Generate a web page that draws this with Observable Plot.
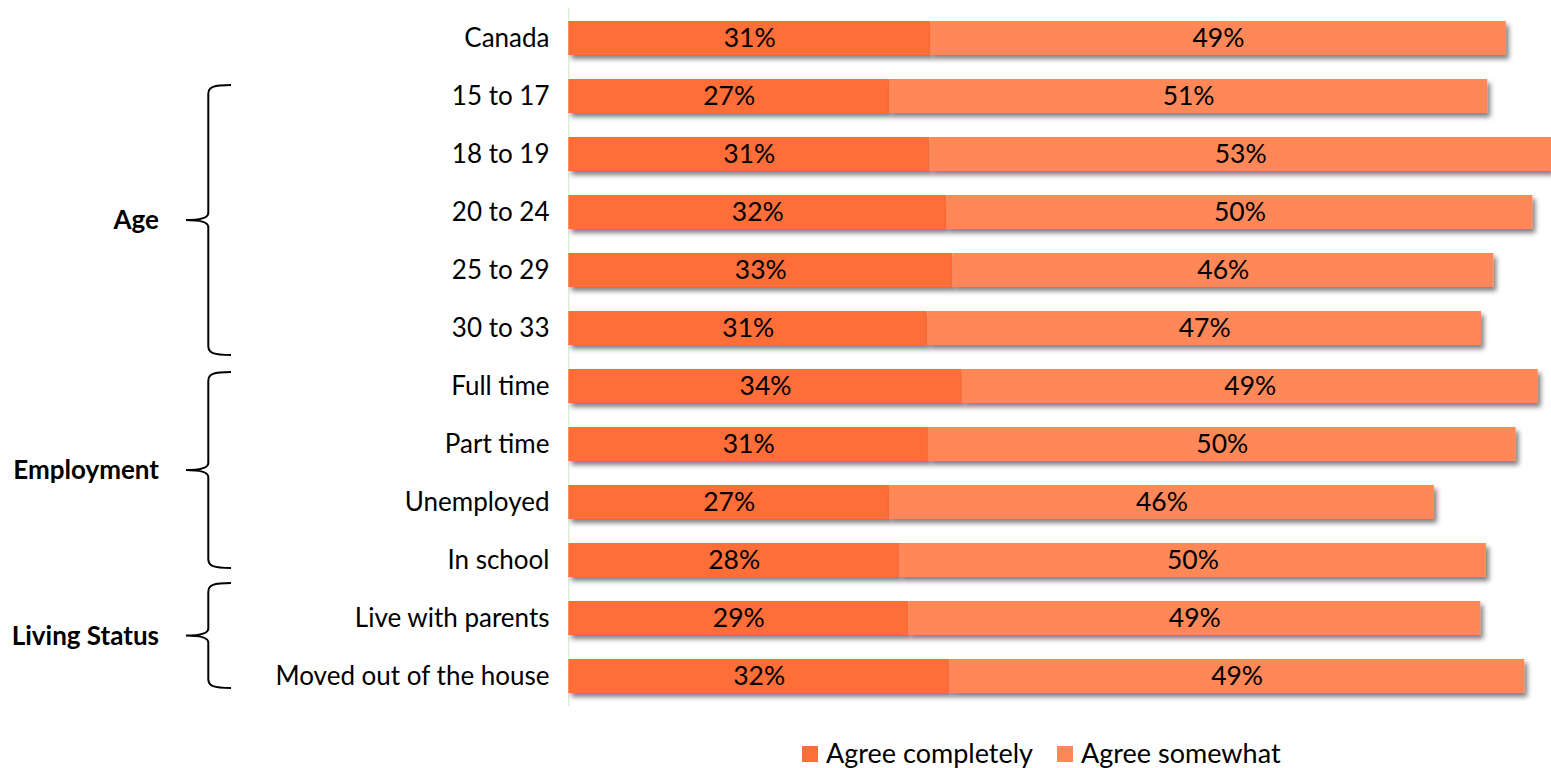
<!DOCTYPE html>
<html>
<head>
<meta charset="utf-8">
<script src="https://cdn.jsdelivr.net/npm/d3@7"></script>
<script src="https://cdn.jsdelivr.net/npm/@observablehq/plot@0.6"></script>
<style>
  html, body { margin: 0; padding: 0; background: #fff; }
  body { width: 1551px; height: 768px; overflow: hidden; position: relative; font-family: Lato, "Open Sans", sans-serif; }
  #legend { position: absolute; left: 802px; top: 739px; display: flex; align-items: center; font-size: 27px; line-height: 27px; color: #000; }
  #legend .item { display: flex; align-items: center; margin-right: 24px; }
  #legend .sw { width: 16px; height: 16px; margin-right: 8px; position: relative; top: 1.5px; }
</style>
</head>
<body>
<div id="chart"></div>
<div id="legend"></div>
<script>
// ---- data ----
const categories = ["Canada", "15 to 17", "18 to 19", "20 to 24", "25 to 29", "30 to 33",
  "Full time", "Part time", "Unemployed", "In school", "Live with parents", "Moved out of the house"];
const agreeCompletely = [30.84, 27.34, 30.78, 32.23, 32.74, 30.61, 33.55, 30.66, 27.34, 28.19, 28.99, 32.45];
const agreeSomewhat   = [49.08, 51.0, 53.0, 49.96, 46.12, 47.2, 49.1, 50.1, 46.45, 50.04, 48.76, 49.05];
const seriesNames = ["Agree completely", "Agree somewhat"];
const groupLabels = ["Age", "Employment", "Living Status"];
const groupFrom = ["15 to 17", "Full time", "Live with parents"];
const groupTo = ["30 to 33", "In school", "Moved out of the house"];

// ---- style / layout ----
const colors = ["#FF6D38", "#FF8759"];
const braceNudge = [[6, 10], [3, -9], [-18, -5]]; // annotation fine-tuning (px)

const rows = categories.map((c, i) => ({cat: c, a: agreeCompletely[i], b: agreeSomewhat[i]}));

const chart = Plot.plot({
  width: 1551,
  height: 720,
  marginLeft: 568,
  marginRight: 0,
  marginTop: 8,
  marginBottom: 14,
  style: {fontFamily: "Lato, 'Open Sans', sans-serif", fontSize: "26px", color: "#000", background: "#fff", overflow: "hidden"},
  x: {domain: [0, 100], range: [568.3, 568.3 + 1173], axis: null},
  y: {domain: categories, range: [20.4, 693.2], paddingInner: 0.41, paddingOuter: 0,
      tickSize: 0, tickPadding: 19, label: null},
  marks: [
    Plot.ruleX([0], {stroke: "#dcf0dc", strokeWidth: 1.5}),
    Plot.barX(rows, {y: "cat", x1: 0, x2: "a", fill: colors[0], clip: true}),
    Plot.barX(rows, {y: "cat", x1: "a", x2: d => d.a + d.b, fill: colors[1], clip: true}),
    Plot.text(rows, {y: "cat", x: d => d.a / 2, text: d => Math.round(d.a) + "%", fontSize: 26.5, fill: "#000"}),
    Plot.text(rows, {y: "cat", x: d => d.a + d.b / 2, text: d => Math.round(d.b) + "%", fontSize: 26.5, fill: "#000"})
  ]
});
document.getElementById("chart").appendChild(chart);

// drop shadow on bars
const svg = d3.select(chart);
const defs = svg.insert("defs", ":first-child");
const f = defs.append("filter").attr("id", "barshadow")
  .attr("filterUnits", "userSpaceOnUse").attr("x", 0).attr("y", 0).attr("width", 1700).attr("height", 800);
f.append("feGaussianBlur").attr("in", "SourceAlpha").attr("stdDeviation", 2.5).attr("result", "blur");
f.append("feOffset").attr("in", "blur").attr("dx", 3).attr("dy", 4).attr("result", "off");
f.append("feComponentTransfer").attr("in", "off").attr("result", "sh")
  .append("feFuncA").attr("type", "linear").attr("slope", 0.5);
const fm = f.append("feMerge");
fm.append("feMergeNode").attr("in", "sh");
fm.append("feMergeNode").attr("in", "SourceGraphic");
svg.selectAll("rect").each(function() {
  const g = this.parentNode;
  if (g && g.tagName.toLowerCase() === "g") g.setAttribute("filter", "url(#barshadow)");
});

// group braces and labels, positioned from the y scale
const y = chart.scale("y");
const bw = y.bandwidth;
const xv = 208.3, xe = 231, xt = 186;
groupLabels.forEach((lab, i) => {
  const top = y.apply(groupFrom[i]) + braceNudge[i][0];
  const bot = y.apply(groupTo[i]) + bw + braceNudge[i][1];
  const mid = (top + bot) / 2;
  const d = `M${xe},${top} C${xv + 5},${top} ${xv},${top + 2} ${xv},${top + 9}
    L${xv},${mid - 7} C${xv},${mid - 2} ${xv - 8},${mid} ${xt},${mid}
    C${xv - 8},${mid} ${xv},${mid + 2} ${xv},${mid + 7}
    L${xv},${bot - 9} C${xv},${bot - 2} ${xv + 5},${bot} ${xe},${bot}`;
  svg.append("path").attr("d", d).attr("fill", "none").attr("stroke", "#000").attr("stroke-width", 2);
  svg.append("text").attr("x", 159).attr("y", mid).attr("text-anchor", "end")
    .attr("dy", "0.35em").attr("font-weight", "bold").attr("font-size", 26).attr("fill", "#000").text(lab);
});

// legend
const legend = d3.select("#legend");
seriesNames.forEach((s, i) => {
  const it = legend.append("div").attr("class", "item");
  it.append("div").attr("class", "sw").style("background", colors[i]);
  it.append("span").text(s);
});
</script>
</body>
</html>
